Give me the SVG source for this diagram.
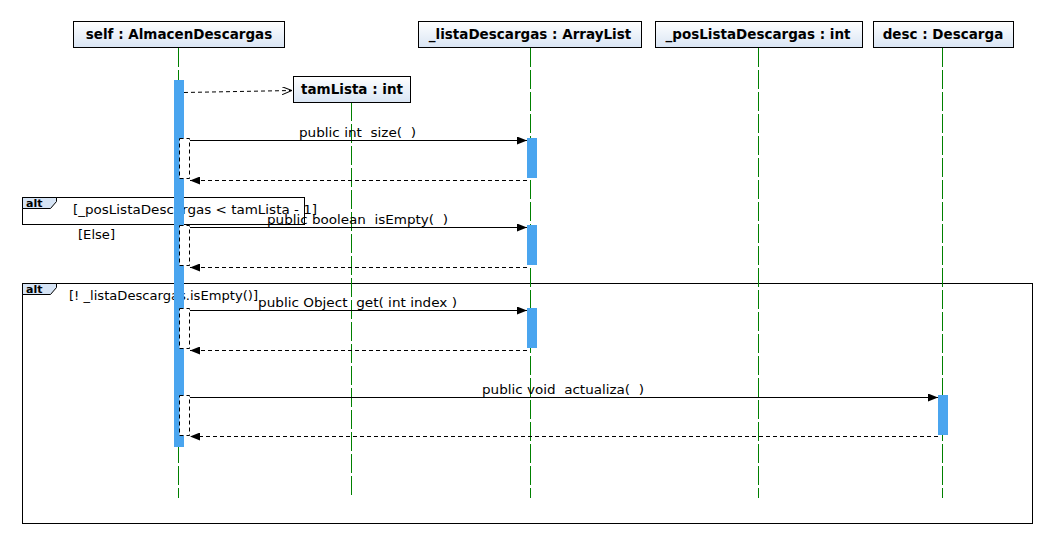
<svg xmlns="http://www.w3.org/2000/svg" width="1053" height="545" viewBox="0 0 1053 545">
<defs>
<linearGradient id="hg" x1="0" y1="0" x2="0" y2="1"><stop offset="0" stop-color="#ffffff"/><stop offset="1" stop-color="#d9e5f4"/></linearGradient>
<marker id="fill" viewBox="0 0 10 8" refX="10" refY="4" markerWidth="10" markerHeight="8" markerUnits="userSpaceOnUse" orient="auto"><path d="M0,0 L10,4 L0,8 Z" fill="#000"/></marker>
<marker id="open" viewBox="0 0 10 8" refX="10" refY="4" markerWidth="10" markerHeight="8" markerUnits="userSpaceOnUse" orient="auto"><path d="M0,0 L10,4 L0,8" fill="none" stroke="#000" stroke-width="1"/></marker>
<style>
.hdr{fill:url(#hg);stroke:#000;stroke-width:1}
.ht{font-family:"DejaVu Sans",sans-serif;font-weight:bold;font-size:13.5px;fill:#000;text-anchor:middle}
.life{stroke:#008000;stroke-width:1;stroke-dasharray:19 3;fill:none}
.bar{fill:#4aa5ef}
.nest{fill:#fff;stroke:#000;stroke-width:1;stroke-dasharray:4 3}
.call{stroke:#000;stroke-width:1;fill:none;marker-end:url(#fill)}
.ret{stroke:#000;stroke-width:1;stroke-dasharray:4 3;fill:none;marker-end:url(#fill)}
.lbl{font-family:"DejaVu Sans",sans-serif;font-size:12px;fill:#000;white-space:pre}
.frame{fill:none;stroke:#000;stroke-width:1}
.tab{fill:#d6e4f5;stroke:#000;stroke-width:1}
.tt{font-family:"DejaVu Sans",sans-serif;font-weight:bold;font-size:11px;fill:#000}
</style>
</defs>
<rect width="1053" height="545" fill="#fff"/>

<g id="frames">
<rect class="frame" x="22.5" y="197.5" width="282" height="27"/>
<path class="tab" d="M22.5,197.5 H56.5 V201.5 L50.5,208.5 H22.5 Z"/>
<text class="tt" x="26" y="206.5">alt</text>
<text class="lbl" x="73" y="214" textLength="244" lengthAdjust="spacingAndGlyphs">[_posListaDescargas &lt; tamLista - 1]</text>
<text class="lbl" x="78" y="239" textLength="37" lengthAdjust="spacingAndGlyphs">[Else]</text>
<rect class="frame" x="22.5" y="283.5" width="1010" height="240"/>
<path class="tab" d="M22.5,283.5 H56.5 V287.5 L50.5,294.5 H22.5 Z"/>
<text class="tt" x="26" y="292.5">alt</text>
<text class="lbl" x="69" y="300" textLength="189" lengthAdjust="spacingAndGlyphs">[! _listaDescargas.isEmpty()]</text>
</g>

<g id="lifelines">
<line class="life" x1="178.5" y1="48" x2="178.5" y2="498"/>
<line class="life" x1="351.5" y1="102" x2="351.5" y2="498"/>
<line class="life" x1="530.5" y1="48" x2="530.5" y2="498"/>
<line class="life" x1="758.5" y1="48" x2="758.5" y2="498"/>
<line class="life" x1="942.5" y1="48" x2="942.5" y2="498"/>
</g>

<g id="node-self">
<rect class="hdr" x="73.5" y="21.5" width="211" height="26"/>
<text class="ht" x="179" y="39">self : AlmacenDescargas</text>
<rect class="bar" x="174" y="80" width="10" height="367"/>
</g>
<g id="node-tamLista">
<rect class="hdr" x="293.5" y="76.5" width="117" height="26"/>
<text class="ht" x="352" y="94">tamLista : int</text>
</g>
<g id="node-listaDescargas">
<rect class="hdr" x="418.5" y="21.5" width="223" height="26"/>
<text class="ht" x="530" y="39">_listaDescargas : ArrayList</text>
<rect class="bar" x="527" y="138" width="10" height="40"/>
<rect class="bar" x="527" y="225" width="10" height="40"/>
<rect class="bar" x="527" y="308" width="10" height="40"/>
</g>
<g id="node-posListaDescargas">
<rect class="hdr" x="655.5" y="21.5" width="207" height="26"/>
<text class="ht" x="758" y="39">_posListaDescargas : int</text>
</g>
<g id="node-desc">
<rect class="hdr" x="873.5" y="21.5" width="140" height="26"/>
<text class="ht" x="943" y="39">desc : Descarga</text>
<rect class="bar" x="938" y="395" width="10" height="40"/>
</g>

<g id="nested">
<rect class="nest" x="179.5" y="138.5" width="10" height="40"/>
<rect class="nest" x="179.5" y="225.5" width="10" height="40"/>
<rect class="nest" x="179.5" y="308.5" width="10" height="40"/>
<rect class="nest" x="179.5" y="395.5" width="10" height="40"/>
</g>

<g id="connectors">
<line x1="184" y1="92.5" x2="292" y2="90.5" stroke="#000" stroke-width="1" stroke-dasharray="4 3" marker-end="url(#open)"/>
<line class="call" x1="190" y1="140.5" x2="527" y2="140.5"/>
<text class="lbl" x="299" y="137" textLength="117" lengthAdjust="spacingAndGlyphs">public int  size(  )</text>
<line class="ret" x1="527" y1="180.5" x2="190" y2="180.5"/>
<line class="call" x1="190" y1="227.5" x2="527" y2="227.5"/>
<text class="lbl" x="267" y="224" textLength="181" lengthAdjust="spacingAndGlyphs">public boolean  isEmpty(  )</text>
<line class="ret" x1="527" y1="267.5" x2="190" y2="267.5"/>
<line class="call" x1="190" y1="310.5" x2="527" y2="310.5"/>
<text class="lbl" x="258" y="307" textLength="199" lengthAdjust="spacingAndGlyphs">public Object  get( int index )</text>
<line class="ret" x1="527" y1="350.5" x2="190" y2="350.5"/>
<line class="call" x1="190" y1="397.5" x2="938" y2="397.5"/>
<text class="lbl" x="482" y="394" textLength="162" lengthAdjust="spacingAndGlyphs">public void  actualiza(  )</text>
<line class="ret" x1="938" y1="436.5" x2="190" y2="436.5"/>
</g>
</svg>
